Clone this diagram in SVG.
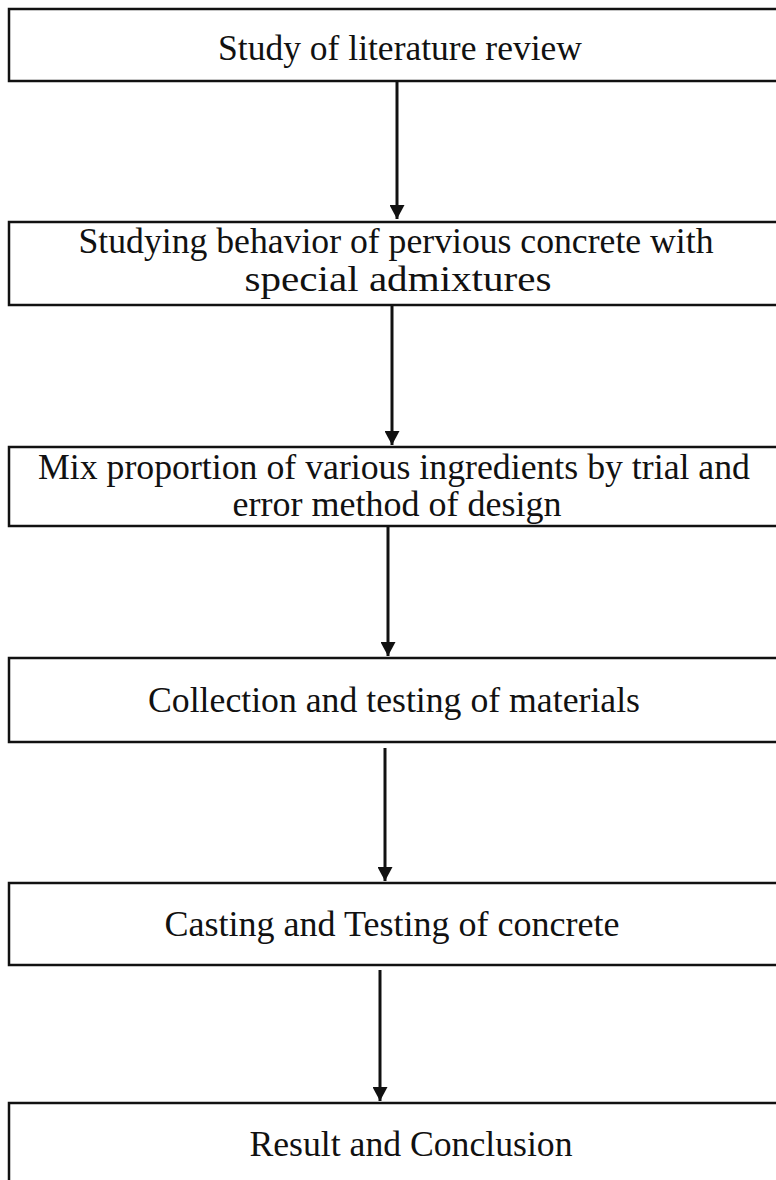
<svg xmlns="http://www.w3.org/2000/svg" width="776" height="1180" viewBox="0 0 776 1180">
<defs>
<marker id="ah" viewBox="0 0 14 15" refX="14" refY="7.5" markerWidth="14" markerHeight="15" markerUnits="userSpaceOnUse" orient="auto">
<path d="M0,0 L14,7.5 L0,15 Z" fill="#111"/>
</marker>
<style>
.box{fill:#fff;stroke:#111;stroke-width:2.5}
.t{font-size:36px;fill:#111;text-anchor:middle}
.c{stroke:#111;stroke-width:3;fill:none}
</style>
</defs>
<rect width="776" height="1180" fill="#fff"/>
<g font-family="Liberation Serif, Times New Roman, serif">
<g id="n1"><rect class="box" x="9" y="9" width="780" height="72"/><text class="t" x="400" y="60" textLength="364" lengthAdjust="spacingAndGlyphs">Study of literature review</text></g>
<g id="n2"><rect class="box" x="9" y="222" width="780" height="83"/><text class="t" x="396" y="253" textLength="635" lengthAdjust="spacingAndGlyphs">Studying behavior of pervious concrete with</text><text class="t" x="398" y="291" textLength="307" lengthAdjust="spacingAndGlyphs">special admixtures</text></g>
<g id="n3"><rect class="box" x="9" y="447" width="780" height="79"/><text class="t" x="394" y="479" textLength="712" lengthAdjust="spacingAndGlyphs">Mix proportion of various ingredients by trial and</text><text class="t" x="397" y="516" textLength="329" lengthAdjust="spacingAndGlyphs">error method of design</text></g>
<g id="n4"><rect class="box" x="9" y="658" width="780" height="84"/><text class="t" x="394" y="712" textLength="492" lengthAdjust="spacingAndGlyphs">Collection and testing of materials</text></g>
<g id="n5"><rect class="box" x="9" y="883" width="780" height="82"/><text class="t" x="392" y="936" textLength="455" lengthAdjust="spacingAndGlyphs">Casting and Testing of concrete</text></g>
<g id="n6"><rect class="box" x="9" y="1103" width="780" height="100"/><text class="t" x="411" y="1156" textLength="323" lengthAdjust="spacingAndGlyphs">Result and Conclusion</text></g>
</g>
<g id="connectors">
<line class="c" x1="397" y1="82" x2="397" y2="219" marker-end="url(#ah)"/>
<line class="c" x1="392" y1="306" x2="392" y2="445" marker-end="url(#ah)"/>
<line class="c" x1="388" y1="527" x2="388" y2="656" marker-end="url(#ah)"/>
<line class="c" x1="385" y1="748" x2="385" y2="881" marker-end="url(#ah)"/>
<line class="c" x1="380" y1="970" x2="380" y2="1101" marker-end="url(#ah)"/>
</g>
</svg>
